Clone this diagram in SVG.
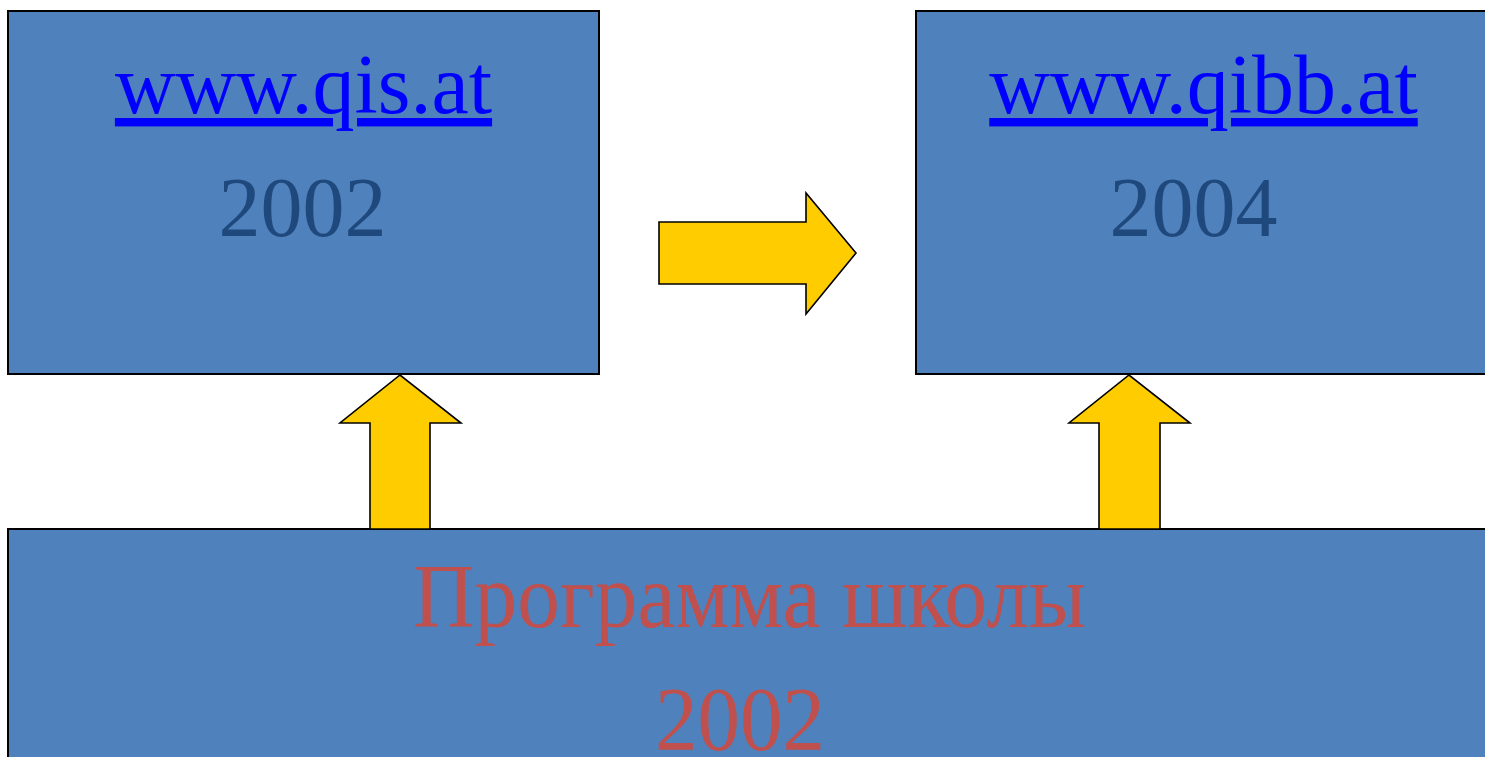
<svg xmlns="http://www.w3.org/2000/svg" width="1485" height="757" viewBox="0 0 1485 757">
<style>
.box{fill:#4F81BD;stroke:#000;stroke-width:2}
.arr{fill:#FFCC00;stroke:#000;stroke-width:1.6;stroke-linejoin:miter}
.t{font-family:"Liberation Serif","Times New Roman",serif;text-anchor:middle}
.url{fill:#0000FF;font-size:84px;text-decoration:underline}
.yr{fill:#1F497D;font-size:84px}
.red{fill:#C0504D;font-size:90px}
</style>
<rect width="1485" height="757" fill="#fff"/>
<g id="node-qis">
<rect class="box" x="8" y="11" width="591" height="363"/>
<text class="t url" x="303.5" y="113">www.qis.at</text>
<text class="t yr" x="302.5" y="236">2002</text>
</g>
<g id="node-qibb">
<rect class="box" x="916" y="11" width="580" height="363"/>
<text class="t url" x="1203.5" y="113">www.qibb.at</text>
<text class="t yr" x="1193.5" y="236">2004</text>
</g>
<g id="node-program">
<rect class="box" x="8" y="529" width="1490" height="240"/>
<text class="t red" x="749.5" y="627" textLength="673" lengthAdjust="spacingAndGlyphs">Программа школы</text>
<text class="t red" x="740" y="750" textLength="170" lengthAdjust="spacingAndGlyphs">2002</text>
</g>
<g id="connectors">
<polygon class="arr" points="659,222 806,222 806,193 856,253 806,314 806,284 659,284"/>
<polygon class="arr" points="370,529 370,423 340,423 400,375 461,423 430,423 430,529"/>
<polygon class="arr" points="1099,529 1099,423 1069,423 1129,375 1190,423 1160,423 1160,529"/>
</g>
</svg>
